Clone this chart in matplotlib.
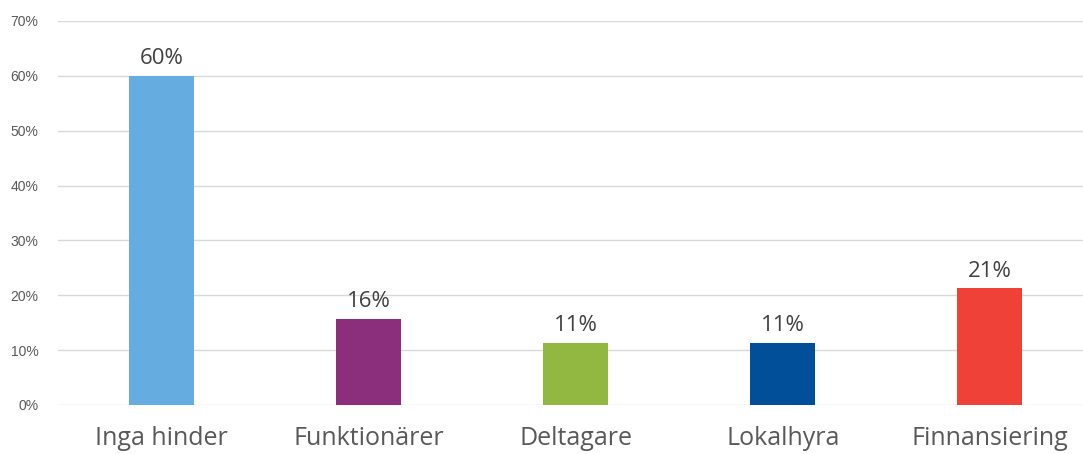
import matplotlib.pyplot as plt
import numpy as np

# 数据
categories = ['Inga hinder', 'Funktionärer', 'Deltagare', 'Lokalhyra', 'Finnansiering']
values = [60.0, 15.7, 11.3, 11.3, 21.3]
labels = ['60%', '16%', '11%', '11%', '21%']
colors = ['#65ADE0', '#8B2F7C', '#92B842', '#004F98', '#EF4137']
yticks = [0, 10, 20, 30, 40, 50, 60, 70]

fig = plt.figure(figsize=(10.83, 4.54), dpi=100)
ax = fig.add_axes([58 / 1083, 49 / 454, 1 - 58 / 1083, 384 / 454])

x = np.arange(len(categories))
bars = ax.bar(x, values, width=0.314, color=colors, zorder=3)

for b, lab in zip(bars, labels):
    ax.text(b.get_x() + b.get_width() / 2, b.get_height() + 1.2, lab,
            ha='center', va='bottom', fontsize=16, color='#404040',
            family=['Open Sans', 'DejaVu Sans'])

ax.set_ylim(0, 70)
ax.set_xlim(-0.5, 4.45)
ax.set_yticks(yticks)
ax.set_yticklabels([f'{t}%' for t in yticks], fontsize=10, color='#595959',
                   family='Liberation Sans')
ax.set_xticks(x)
ax.set_xticklabels(categories, fontsize=18, color='#595959',
                   family=['Open Sans', 'DejaVu Sans'])
ax.tick_params(length=0)
ax.tick_params(axis='x', pad=15)
ax.tick_params(axis='y', pad=14)
ax.grid(axis='y', color='#D9D9D9', linewidth=1, zorder=0)
for s in ax.spines.values():
    s.set_visible(False)

plt.savefig('out.png', dpi=100)
